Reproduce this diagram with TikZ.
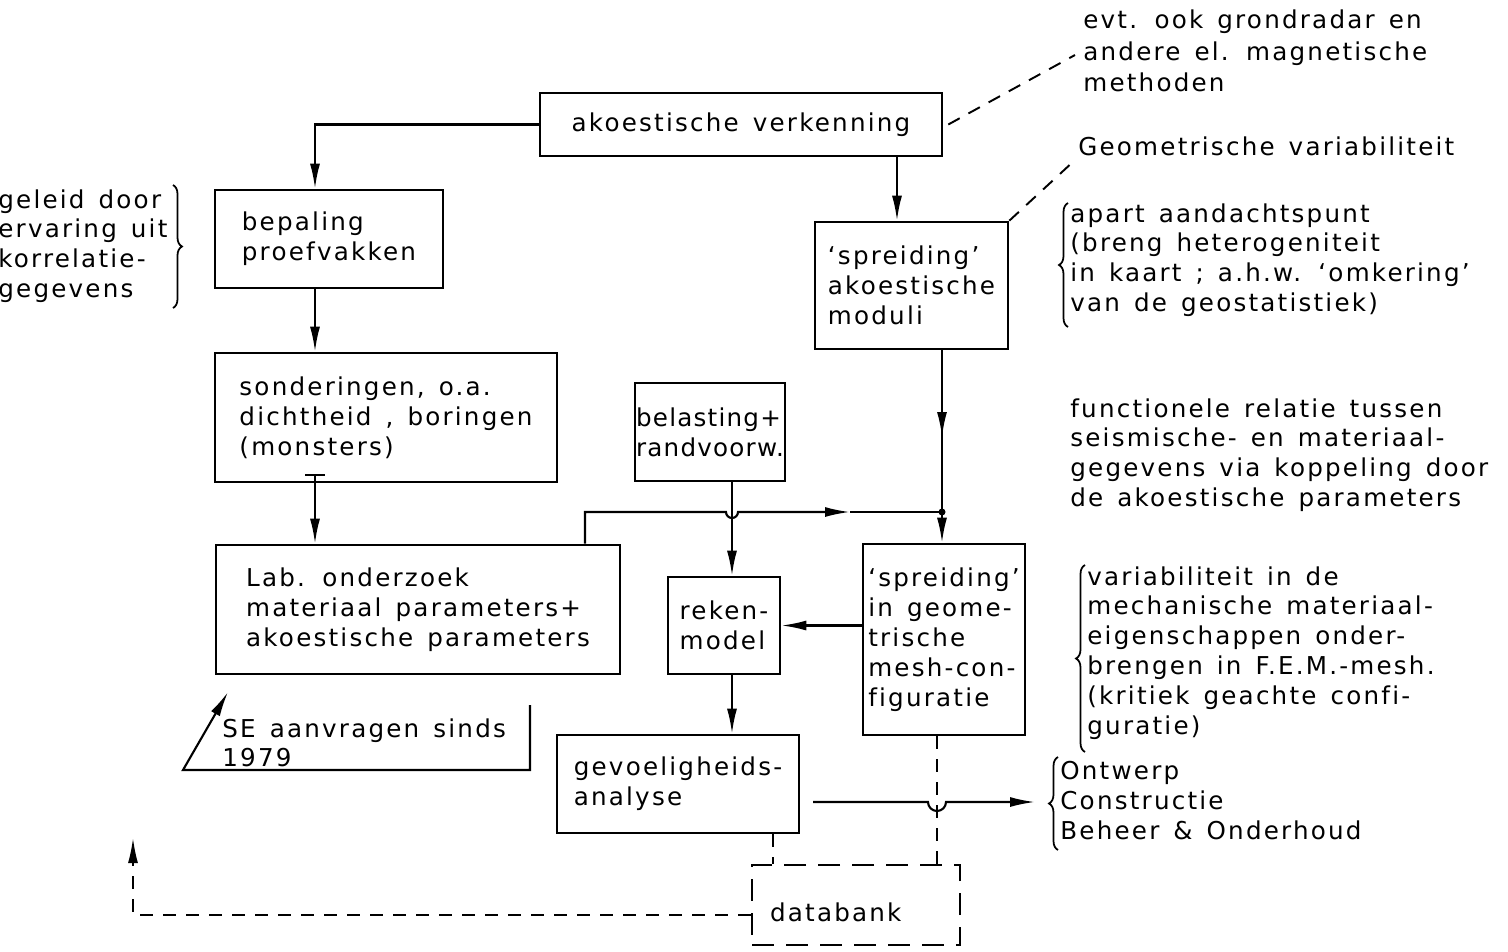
\documentclass[tikz,border=0pt]{standalone}
\usepackage{fontspec}
\setmainfont{DejaVu Sans}[LetterSpace=9,WordSpace=1.4,Ligatures={TeX,NoCommon}]
\usetikzlibrary{arrows.meta,calc,decorations.pathreplacing}
\begin{document}
\begin{tikzpicture}[x=0.02cm,y=-0.02cm,
  every node/.style={font=\fontsize{14}{17}\selectfont},
  box/.style={draw, line width=1.5pt, inner sep=0pt, align=left},
  conn/.style={line width=1.2pt},
  tip/.style={-{Latex[length=0.5cm,width=0.2cm]}},
  arr/.style={conn, tip},
  dsh/.style={line width=1.1pt, dash pattern=on 0.26cm off 0.2cm},
  note/.style={anchor=north west, inner sep=0pt, align=left},
  brc/.style={decorate, decoration={brace, amplitude=0.18cm}, line width=1pt}
]
\useasboundingbox (0,0) rectangle (1508,951);
\fill[white] (0,0) rectangle (1508,951);

% boxes
\node[box, minimum width=8.04cm, minimum height=1.26cm] (ver) at (741,124.5) {akoestische verkenning};
\node[box, minimum width=4.56cm, minimum height=1.96cm] (bep) at (329,239) {bepaling\\proefvakken};
\node[box, minimum width=3.86cm, minimum height=2.54cm] (mod) at (911.5,285.5) {`spreiding'\\akoestische\\moduli};
\node[box, minimum width=6.84cm, minimum height=2.58cm] (son) at (386,417.5) {sonderingen, o.a.\\dichtheid , boringen\\(monsters)};
\node[box, minimum width=3.0cm, minimum height=1.96cm,
      font=\fontsize{14}{17}\selectfont\addfontfeatures{LetterSpace=5}] (bel) at (710,432) {belasting+\\randvoorw.};
\node[box, minimum width=8.08cm, minimum height=2.58cm] (lab) at (418,609.5) {Lab. onderzoek\\materiaal parameters+\\akoestische parameters};
\node[box, minimum width=2.24cm, minimum height=1.94cm] (rek) at (724,625.5) {reken-\\model};
\node[box, minimum width=3.24cm, minimum height=3.82cm] (geo) at (944,639.5) {`spreiding'\\in geome-\\trische\\mesh-con-\\figuratie};
\node[box, minimum width=4.84cm, minimum height=1.96cm] (gev) at (678,784) {gevoeligheids-\\analyse};
\node[box, dash pattern=on 0.44cm off 0.24cm, minimum width=4.16cm, minimum height=1.6cm,
      text width=3.44cm, inner xsep=0.36cm, text height=0.65cm, text depth=0cm] (db) at (856,905) {databank};

% helper coordinates
\coordinate (xa) at (315,0);
\coordinate (xb) at (897,0);
\coordinate (xc) at (942,0);
\coordinate (xl) at (585,0);
\coordinate (xr) at (732,0);
\coordinate (xd) at (773,0);
\coordinate (xe) at (937,0);
\coordinate (jn) at (942,512);
\coordinate (m1) at (942,437);
\coordinate (m2) at (850,512);
\coordinate (sT) at ($(son.south -| xa)+(0,-9)$);
\coordinate (gout) at (813,802);
\coordinate (ocb) at (1035,802);
\coordinate (dbl) at ($(db.west)+(0,10)$);
\coordinate (ret) at (133,838);
\coordinate (se1) at (530,705);
\coordinate (se2) at (183,770);
\coordinate (se3) at (228,692);
\coordinate (ld1) at (1075,55);
\coordinate (ld2) at (1075,160);

% connectors
\draw[arr] (ver.west) -| (bep.north -| xa);
\draw[arr] (ver.south -| xb) -- (mod.north -| xb);
\draw[arr] (bep.south -| xa) -- (son.north -| xa);
\draw[conn, {Bar[width=0.4cm]}-{Latex[length=0.5cm,width=0.2cm]}] (sT) -- (lab.north -| xa);
\draw[conn] (mod.south -| xc) -- (jn);
\draw[arr] (mod.south -| xc) -- (m1);
\draw[arr] (jn) -- (geo.north -| xc);
\fill (jn) circle[radius=0.07cm];
\draw[arr] (lab.north -| xl) |- ($(jn -| xr)+(-6,0)$) arc[start angle=180,end angle=360,radius=0.12cm] -- (m2);
\draw[conn] (m2) -- (jn);
\draw[arr] (bel.south -| xr) -- (rek.north -| xr);
\draw[arr] (rek.east -| geo.west) -- (rek.east);
\draw[arr] (rek.south -| xr) -- (gev.north -| xr);
\draw[dsh] (gev.south -| xd) -- (db.north -| xd);
\draw[dsh] (geo.south -| xe) -- (db.north -| xe);
\draw[arr] (gout) -- ($(gout -| xe)+(-9,0)$) arc[start angle=180,end angle=360,radius=0.18cm] -- (ocb);
\draw[dsh, tip] (dbl) -| (ret);
\draw[conn, tip] (se1) |- (se2) -- (se3);
\draw[dsh] ($(ver.east)+(5,0)$) -- (ld1);
\draw[dsh] (mod.north east) -- (ld2);

% annotations
\node[note] (se) at (222,718) {SE aanvragen sinds\\1979};
\node[note, font=\fontsize{14}{18.2}\selectfont] (evt) at (1083,9) {evt. ook grondradar en\\andere el. magnetische\\methoden};
\node[note] (gvar) at (1078,136) {Geometrische variabiliteit};
\node[note] (apart) at (1070,203) {apart aandachtspunt\\(breng heterogeniteit\\in kaart ; a.h.w. `omkering'\\van de geostatistiek)};
\node[note] (func) at (1070,398) {functionele relatie tussen\\seismische- en materiaal-\\gegevens via koppeling door\\de akoestische parameters};
\node[note] (varb) at (1087,566) {variabiliteit in de\\mechanische materiaal-\\eigenschappen onder-\\brengen in F.E.M.-mesh.\\(kritiek geachte confi-\\guratie)};
\node[note] (ontw) at (1060,761) {Ontwerp\\Constructie\\Beheer \& Onderhoud};
\node[note] (gel) at (-2,189) {geleid door\\ervaring uit\\korrelatie-\\gegevens};

% braces
\draw[brc] (1068,327) -- (1068,203);
\draw[brc] (1085,752) -- (1085,565);
\draw[brc] (1058,850) -- (1058,757);
\draw[brc] (173,185) -- (173,308);
\end{tikzpicture}
\end{document}
